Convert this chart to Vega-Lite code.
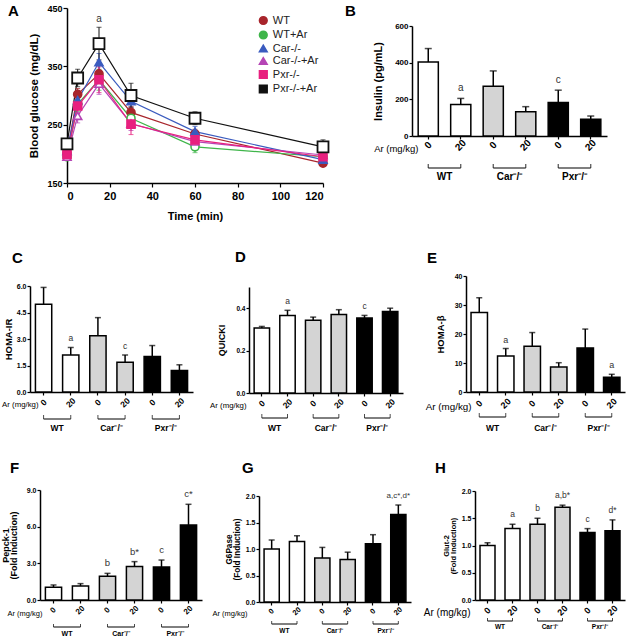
{
  "$schema": "https://vega.github.io/schema/vega-lite/v6.json",
  "padding": 0,
  "background": "white",
  "datasets": {
    "glucose": [
      {"g": "WT", "t": 0, "m": 201, "e": 6}, {"g": "WT", "t": 5, "m": 302, "e": 10}, {"g": "WT", "t": 15, "m": 337, "e": 15}, {"g": "WT", "t": 30, "m": 271, "e": 10}, {"g": "WT", "t": 60, "m": 234, "e": 8}, {"g": "WT", "t": 120, "m": 184, "e": 5},
      {"g": "WT+Ar", "t": 0, "m": 195, "e": 6}, {"g": "WT+Ar", "t": 5, "m": 285, "e": 12}, {"g": "WT+Ar", "t": 15, "m": 327, "e": 18}, {"g": "WT+Ar", "t": 30, "m": 261, "e": 12}, {"g": "WT+Ar", "t": 60, "m": 212, "e": 10}, {"g": "WT+Ar", "t": 120, "m": 195, "e": 6},
      {"g": "Car-/-", "t": 0, "m": 205, "e": 6}, {"g": "Car-/-", "t": 5, "m": 292, "e": 12}, {"g": "Car-/-", "t": 15, "m": 357, "e": 15}, {"g": "Car-/-", "t": 30, "m": 290, "e": 10}, {"g": "Car-/-", "t": 60, "m": 238, "e": 9}, {"g": "Car-/-", "t": 120, "m": 190, "e": 6},
      {"g": "Car-/-+Ar", "t": 0, "m": 195, "e": 6}, {"g": "Car-/-+Ar", "t": 5, "m": 265, "e": 12}, {"g": "Car-/-+Ar", "t": 15, "m": 320, "e": 18}, {"g": "Car-/-+Ar", "t": 30, "m": 252, "e": 12}, {"g": "Car-/-+Ar", "t": 60, "m": 221, "e": 9}, {"g": "Car-/-+Ar", "t": 120, "m": 198, "e": 6},
      {"g": "Pxr-/-", "t": 0, "m": 199, "e": 6}, {"g": "Pxr-/-", "t": 5, "m": 282, "e": 12}, {"g": "Pxr-/-", "t": 15, "m": 327, "e": 22}, {"g": "Pxr-/-", "t": 30, "m": 251, "e": 18}, {"g": "Pxr-/-", "t": 60, "m": 224, "e": 9}, {"g": "Pxr-/-", "t": 120, "m": 195, "e": 6},
      {"g": "Pxr-/-+Ar", "t": 0, "m": 217, "e": 8}, {"g": "Pxr-/-+Ar", "t": 5, "m": 330, "e": 15}, {"g": "Pxr-/-+Ar", "t": 15, "m": 389, "e": 28}, {"g": "Pxr-/-+Ar", "t": 30, "m": 300, "e": 21}, {"g": "Pxr-/-+Ar", "t": 60, "m": 261, "e": 11}, {"g": "Pxr-/-+Ar", "t": 120, "m": 212, "e": 12}
    ],
    "glucoseSig": [{"t": 15, "m": 417, "lab": "a"}],
    "brackets": [
      {"grp": "WT", "a": "WT 0", "b": "WT 20", "lab": "WT"},
      {"grp": "Car", "a": "Car 0", "b": "Car 20", "lab": "Car\u207b/\u207b"},
      {"grp": "Pxr", "a": "Pxr 0", "b": "Pxr 20", "lab": "Pxr\u207b/\u207b"}
    ],
    "insulin": [
      {"cat": "WT 0", "grp": "WT", "v": 404, "top": 477, "sig": ""}, {"cat": "WT 20", "grp": "WT", "v": 172, "top": 205, "sig": "a"},
      {"cat": "Car 0", "grp": "Car", "v": 272, "top": 355, "sig": ""}, {"cat": "Car 20", "grp": "Car", "v": 132, "top": 160, "sig": ""},
      {"cat": "Pxr 0", "grp": "Pxr", "v": 183, "top": 250, "sig": "c"}, {"cat": "Pxr 20", "grp": "Pxr", "v": 91, "top": 109, "sig": ""}
    ],
    "homair": [
      {"cat": "WT 0", "grp": "WT", "v": 4.97, "top": 5.92, "sig": ""}, {"cat": "WT 20", "grp": "WT", "v": 2.09, "top": 2.52, "sig": "a"},
      {"cat": "Car 0", "grp": "Car", "v": 3.18, "top": 4.21, "sig": ""}, {"cat": "Car 20", "grp": "Car", "v": 1.69, "top": 2.10, "sig": "c"},
      {"cat": "Pxr 0", "grp": "Pxr", "v": 2.01, "top": 2.63, "sig": ""}, {"cat": "Pxr 20", "grp": "Pxr", "v": 1.22, "top": 1.54, "sig": ""}
    ],
    "quicki": [
      {"cat": "WT 0", "grp": "WT", "v": 0.307, "top": 0.314, "sig": ""}, {"cat": "WT 20", "grp": "WT", "v": 0.365, "top": 0.390, "sig": "a"},
      {"cat": "Car 0", "grp": "Car", "v": 0.343, "top": 0.358, "sig": ""}, {"cat": "Car 20", "grp": "Car", "v": 0.370, "top": 0.393, "sig": ""},
      {"cat": "Pxr 0", "grp": "Pxr", "v": 0.354, "top": 0.366, "sig": "c"}, {"cat": "Pxr 20", "grp": "Pxr", "v": 0.384, "top": 0.400, "sig": ""}
    ],
    "homab": [
      {"cat": "WT 0", "grp": "WT", "v": 27.4, "top": 32.5, "sig": ""}, {"cat": "WT 20", "grp": "WT", "v": 12.4, "top": 15.0, "sig": "a"},
      {"cat": "Car 0", "grp": "Car", "v": 15.8, "top": 20.5, "sig": ""}, {"cat": "Car 20", "grp": "Car", "v": 8.6, "top": 10.1, "sig": ""},
      {"cat": "Pxr 0", "grp": "Pxr", "v": 15.2, "top": 21.7, "sig": ""}, {"cat": "Pxr 20", "grp": "Pxr", "v": 5.1, "top": 6.1, "sig": "a"}
    ],
    "pepck": [
      {"cat": "WT 0", "grp": "WT", "v": 1.04, "top": 1.23, "sig": ""}, {"cat": "WT 20", "grp": "WT", "v": 1.15, "top": 1.34, "sig": ""},
      {"cat": "Car 0", "grp": "Car", "v": 1.94, "top": 2.18, "sig": "b"}, {"cat": "Car 20", "grp": "Car", "v": 2.75, "top": 3.14, "sig": "b*"},
      {"cat": "Pxr 0", "grp": "Pxr", "v": 2.70, "top": 3.27, "sig": "c"}, {"cat": "Pxr 20", "grp": "Pxr", "v": 6.14, "top": 7.83, "sig": "c*"}
    ],
    "g6pase": [
      {"cat": "WT 0", "grp": "WT", "v": 1.00, "top": 1.17, "sig": ""}, {"cat": "WT 20", "grp": "WT", "v": 1.14, "top": 1.25, "sig": ""},
      {"cat": "Car 0", "grp": "Car", "v": 0.83, "top": 1.03, "sig": ""}, {"cat": "Car 20", "grp": "Car", "v": 0.80, "top": 0.94, "sig": ""},
      {"cat": "Pxr 0", "grp": "Pxr", "v": 1.10, "top": 1.27, "sig": ""}, {"cat": "Pxr 20", "grp": "Pxr", "v": 1.65, "top": 1.83, "sig": "a,c*,d*"}
    ],
    "glut2": [
      {"cat": "WT 0", "grp": "WT", "v": 1.00, "top": 1.05, "sig": ""}, {"cat": "WT 20", "grp": "WT", "v": 1.31, "top": 1.39, "sig": "a"},
      {"cat": "Car 0", "grp": "Car", "v": 1.39, "top": 1.50, "sig": "b"}, {"cat": "Car 20", "grp": "Car", "v": 1.70, "top": 1.74, "sig": "a,b*"},
      {"cat": "Pxr 0", "grp": "Pxr", "v": 1.24, "top": 1.31, "sig": "c"}, {"cat": "Pxr 20", "grp": "Pxr", "v": 1.27, "top": 1.47, "sig": "d*"}
    ]
  },
  "vconcat": [
    {
      "hconcat": [
        {
          "width": 335, "height": 240,
          "title": {"text": "A", "dx": 8, "offset": -19.1},
          "layer": [
            {
              "data": {"name": "glucose"},
              "mark": {"type": "line", "strokeWidth": 1.2},
              "encoding": {
                "x": {"field": "t", "type": "quantitative", "title": "Time (min)", "scale": {"domain": [0, 120], "range": [67, 323], "nice": false},
                      "axis": {"values": [0, 20, 40, 60, 80, 100, 120], "offset": -57, "labelFontSize": 11, "titleFontSize": 11, "titlePadding": 9, "tickSize": 4, "labelPadding": 3, "labelOverlap": false}},
                "y": {"field": "m", "type": "quantitative", "title": "Blood glucose (mg/dL)", "scale": {"domain": [150, 450], "range": [183, 8], "nice": false, "zero": false},
                      "axis": {"values": [150, 200, 250, 300, 350, 400, 450], "offset": -67, "labelFontSize": 9, "titleFontSize": 11.5, "titlePadding": 7, "tickSize": 4, "labelPadding": 1, "labelOverlap": false}},
                "color": {"field": "g", "type": "nominal",
                          "scale": {"domain": ["WT", "WT+Ar", "Car-/-", "Car-/-+Ar", "Pxr-/-", "Pxr-/-+Ar"], "range": ["#a8252c", "#3fb54a", "#3a5bbf", "#b545b5", "#e8207f", "#111111"]},
                          "legend": {"title": null, "orient": "none", "legendX": 257.8, "legendY": 15}}
              }
            },
            {
              "data": {"name": "glucose"},
              "mark": {"type": "errorbar", "ticks": {"size": 5}, "thickness": 1},
              "encoding": {
                "x": {"field": "t", "type": "quantitative", "title": "Time (min)"},
                "y": {"field": "m", "type": "quantitative", "title": "Blood glucose (mg/dL)"},
                "yError": {"field": "e"},
                "color": {"field": "g", "type": "nominal", "legend": {"title": null, "orient": "none", "legendX": 257.8, "legendY": 15}}
              }
            },
            {
              "data": {"name": "glucose"},
              "transform": [{"filter": "datum.g != 'Pxr-/-+Ar'"}],
              "mark": {"type": "point", "filled": false, "opacity": 1, "strokeWidth": 1.6, "size": 65},
              "encoding": {
                "x": {"field": "t", "type": "quantitative", "title": "Time (min)"},
                "y": {"field": "m", "type": "quantitative", "title": "Blood glucose (mg/dL)"},
                "color": {"field": "g", "type": "nominal", "legend": {"title": null, "orient": "none", "legendX": 257.8, "legendY": 15}},
                "shape": {"field": "g", "type": "nominal",
                          "scale": {"domain": ["WT", "WT+Ar", "Car-/-", "Car-/-+Ar", "Pxr-/-", "Pxr-/-+Ar"], "range": ["circle", "circle", "triangle-up", "triangle-up", "square", "square"]},
                          "legend": {"title": null, "orient": "none", "legendX": 257.8, "legendY": 15}},
                "fill": {"field": "g", "type": "nominal", "legend": null,
                         "scale": {"domain": ["WT", "WT+Ar", "Car-/-", "Car-/-+Ar", "Pxr-/-", "Pxr-/-+Ar"], "range": ["#a8252c", "#ffffff", "#3a5bbf", "#ffffff", "#e8207f", "#ffffff"]}}
              }
            },
            {
              "data": {"name": "glucose"},
              "transform": [{"filter": "datum.g == 'Pxr-/-+Ar'"}],
              "mark": {"type": "point", "filled": false, "opacity": 1, "strokeWidth": 1.8, "size": 120},
              "encoding": {
                "x": {"field": "t", "type": "quantitative", "title": "Time (min)"},
                "y": {"field": "m", "type": "quantitative", "title": "Blood glucose (mg/dL)"},
                "color": {"field": "g", "type": "nominal", "legend": {"title": null, "orient": "none", "legendX": 257.8, "legendY": 15}},
                "shape": {"field": "g", "type": "nominal", "legend": {"title": null, "orient": "none", "legendX": 257.8, "legendY": 15}},
                "fill": {"field": "g", "type": "nominal", "legend": null}
              }
            },
            {
              "data": {"name": "glucoseSig"},
              "mark": {"type": "text", "dy": -3, "baseline": "bottom", "fontSize": 10, "color": "#333"},
              "encoding": {
                "x": {"field": "t", "type": "quantitative", "title": "Time (min)"},
                "y": {"field": "m", "type": "quantitative", "title": "Blood glucose (mg/dL)"},
                "text": {"field": "lab"}
              }
            }
          ]
        },
        {
          "width": 296, "height": 240,
          "title": {"text": "B", "dx": 10, "offset": -19.1},
          "layer": [
            {"data": {"name": "insulin"}, "mark": {"type": "bar", "stroke": "#000", "strokeWidth": 1.5, "width": {"band": 0.62}},
             "encoding": {
               "x": {"field": "cat", "type": "nominal", "title": "Ar (mg/kg)", "scale": {"domain": ["WT 0", "WT 20", "Car 0", "Car 20", "Pxr 0", "Pxr 20"], "range": [77, 272], "paddingInner": 0, "paddingOuter": 0},
                     "axis": {"offset": -104, "titleFontSize": 9.5, "titleFontWeight": "normal", "titleX": 83, "titleY": 12, "titleAlign": "right", "titleBaseline": "middle", "titleAnchor": null, "labelExpr": "split(datum.label, ' ')[1]", "labelAngle": -45, "labelAlign": "center", "labelBaseline": "middle", "labelPadding": 6, "labelFontSize": 10, "labelOverlap": false, "tickSize": 3}},
               "y": {"field": "v", "type": "quantitative", "title": "Insulin (pg/mL)", "scale": {"domain": [0, 600], "range": [136, 26], "nice": false},
                     "axis": {"offset": -77, "values": [0, 200, 400, 600], "labelFontSize": 8, "titleFontSize": 11, "titlePadding": 11, "tickSize": 3, "labelPadding": 1, "labelOverlap": false}},
               "fill": {"field": "grp", "type": "nominal", "scale": {"domain": ["WT", "Car", "Pxr"], "range": ["#ffffff", "#d4d4d4", "#000000"]}, "legend": null}
             }},
            {"data": {"name": "insulin"}, "mark": {"type": "rule", "color": "#000", "strokeWidth": 1.5},
             "encoding": {"x": {"field": "cat", "type": "nominal"}, "y": {"field": "v", "type": "quantitative"}, "y2": {"field": "top"}}},
            {"data": {"name": "insulin"}, "mark": {"type": "tick", "color": "#000", "thickness": 1.5, "size": 7},
             "encoding": {"x": {"field": "cat", "type": "nominal"}, "y": {"field": "top", "type": "quantitative"}}},
            {"data": {"name": "insulin"}, "mark": {"type": "text", "dy": -5, "baseline": "bottom", "fontSize": 10, "color": "#333"},
             "encoding": {"x": {"field": "cat", "type": "nominal"}, "y": {"field": "top", "type": "quantitative"}, "text": {"field": "sig"}}},
            {"data": {"name": "brackets"}, "mark": {"type": "rule", "color": "#000", "strokeWidth": 1.2, "yOffset": 32},
             "encoding": {"x": {"field": "a", "type": "nominal"}, "x2": {"field": "b"}, "y": {"datum": 0}}},
            {"data": {"name": "brackets"}, "mark": {"type": "tick", "orient": "vertical", "color": "#000", "thickness": 1.2, "size": 4, "yOffset": 30},
             "encoding": {"x": {"field": "a", "type": "nominal"}, "y": {"datum": 0}}},
            {"data": {"name": "brackets"}, "mark": {"type": "tick", "orient": "vertical", "color": "#000", "thickness": 1.2, "size": 4, "yOffset": 30},
             "encoding": {"x": {"field": "b", "type": "nominal"}, "y": {"datum": 0}}},
            {"data": {"name": "brackets"}, "mark": {"type": "text", "dy": 41, "fontSize": 10, "fontWeight": "bold", "baseline": "middle", "color": "#000"},
             "encoding": {"x": {"field": "b", "type": "nominal", "bandPosition": 0}, "y": {"datum": 0}, "text": {"field": "lab"}}}
          ]
        }
      ],
      "spacing": 0,
      "resolve": {"scale": {"fill": "independent"}}
    },
    {
      "hconcat": [
        {
          "width": 205, "height": 200,
          "title": {"text": "C", "dx": 12, "offset": -26.1},
          "layer": [
            {"data": {"name": "homair"}, "mark": {"type": "bar", "stroke": "#000", "strokeWidth": 1.5, "width": {"band": 0.6}},
             "encoding": {
               "x": {"field": "cat", "type": "nominal", "title": "Ar (mg/kg)", "scale": {"domain": ["WT 0", "WT 20", "Car 0", "Car 20", "Pxr 0", "Pxr 20"], "range": [30, 193], "paddingInner": 0, "paddingOuter": 0},
                     "axis": {"offset": -48, "titleFontSize": 7.8, "titleFontWeight": "normal", "titleX": 38, "titleY": 12, "titleAlign": "right", "titleBaseline": "middle", "titleAnchor": null, "labelExpr": "split(datum.label, ' ')[1]", "labelAngle": -45, "labelAlign": "center", "labelBaseline": "middle", "labelPadding": 7, "labelFontSize": 8.5, "labelOverlap": false, "tickSize": 3}},
               "y": {"field": "v", "type": "quantitative", "title": "HOMA-IR", "scale": {"domain": [0, 6], "range": [152, 46], "nice": false},
                     "axis": {"offset": -30, "values": [0, 1.5, 3, 4.5, 6], "format": ".1f", "labelFontSize": 7, "titleFontSize": 9.5, "titlePadding": 3, "tickSize": 3, "labelPadding": 1, "labelOverlap": false}},
               "fill": {"field": "grp", "type": "nominal", "scale": {"domain": ["WT", "Car", "Pxr"], "range": ["#ffffff", "#d4d4d4", "#000000"]}, "legend": null}
             }},
            {"data": {"name": "homair"}, "mark": {"type": "rule", "color": "#000", "strokeWidth": 1.5},
             "encoding": {"x": {"field": "cat", "type": "nominal"}, "y": {"field": "v", "type": "quantitative"}, "y2": {"field": "top"}}},
            {"data": {"name": "homair"}, "mark": {"type": "tick", "color": "#000", "thickness": 1.5, "size": 6},
             "encoding": {"x": {"field": "cat", "type": "nominal"}, "y": {"field": "top", "type": "quantitative"}}},
            {"data": {"name": "homair"}, "mark": {"type": "text", "dy": -4, "baseline": "bottom", "fontSize": 8.5, "color": "#333"},
             "encoding": {"x": {"field": "cat", "type": "nominal"}, "y": {"field": "top", "type": "quantitative"}, "text": {"field": "sig"}}},
            {"data": {"name": "brackets"}, "mark": {"type": "rule", "color": "#000", "strokeWidth": 1, "yOffset": 27},
             "encoding": {"x": {"field": "a", "type": "nominal"}, "x2": {"field": "b"}, "y": {"datum": 0}}},
            {"data": {"name": "brackets"}, "mark": {"type": "tick", "orient": "vertical", "color": "#000", "thickness": 1, "size": 4, "yOffset": 25},
             "encoding": {"x": {"field": "a", "type": "nominal"}, "y": {"datum": 0}}},
            {"data": {"name": "brackets"}, "mark": {"type": "tick", "orient": "vertical", "color": "#000", "thickness": 1, "size": 4, "yOffset": 25},
             "encoding": {"x": {"field": "b", "type": "nominal"}, "y": {"datum": 0}}},
            {"data": {"name": "brackets"}, "mark": {"type": "text", "dy": 36, "fontSize": 8.5, "fontWeight": "bold", "baseline": "middle", "color": "#000"},
             "encoding": {"x": {"field": "b", "type": "nominal", "bandPosition": 0}, "y": {"datum": 0}, "text": {"field": "lab"}}}
          ]
        },
        {
          "width": 213, "height": 200,
          "title": {"text": "D", "dx": 30, "offset": -25.1},
          "layer": [
            {"data": {"name": "quicki"}, "mark": {"type": "bar", "stroke": "#000", "strokeWidth": 1.5, "width": {"band": 0.6}},
             "encoding": {
               "x": {"field": "cat", "type": "nominal", "title": "Ar (mg/kg)", "scale": {"domain": ["WT 0", "WT 20", "Car 0", "Car 20", "Pxr 0", "Pxr 20"], "range": [44, 198], "paddingInner": 0, "paddingOuter": 0},
                     "axis": {"offset": -47, "titleFontSize": 7.8, "titleFontWeight": "normal", "titleX": 41, "titleY": 12, "titleAlign": "right", "titleBaseline": "middle", "titleAnchor": null, "labelExpr": "split(datum.label, ' ')[1]", "labelAngle": -45, "labelAlign": "center", "labelBaseline": "middle", "labelPadding": 7, "labelFontSize": 8.5, "labelOverlap": false, "tickSize": 3}},
               "y": {"field": "v", "type": "quantitative", "title": "QUICKI", "scale": {"domain": [0, 0.5], "range": [153, 47], "nice": false},
                     "axis": {"offset": -44, "values": [0, 0.1, 0.2, 0.3, 0.4, 0.5], "format": ".1f", "labelFontSize": 6.5, "titleFontSize": 9, "titlePadding": 9, "tickSize": 3, "labelPadding": 1, "labelOverlap": false}},
               "fill": {"field": "grp", "type": "nominal", "scale": {"domain": ["WT", "Car", "Pxr"], "range": ["#ffffff", "#d4d4d4", "#000000"]}, "legend": null}
             }},
            {"data": {"name": "quicki"}, "mark": {"type": "rule", "color": "#000", "strokeWidth": 1.5},
             "encoding": {"x": {"field": "cat", "type": "nominal"}, "y": {"field": "v", "type": "quantitative"}, "y2": {"field": "top"}}},
            {"data": {"name": "quicki"}, "mark": {"type": "tick", "color": "#000", "thickness": 1.5, "size": 6},
             "encoding": {"x": {"field": "cat", "type": "nominal"}, "y": {"field": "top", "type": "quantitative"}}},
            {"data": {"name": "quicki"}, "mark": {"type": "text", "dy": -4, "baseline": "bottom", "fontSize": 8.5, "color": "#333"},
             "encoding": {"x": {"field": "cat", "type": "nominal"}, "y": {"field": "top", "type": "quantitative"}, "text": {"field": "sig"}}},
            {"data": {"name": "brackets"}, "mark": {"type": "rule", "color": "#000", "strokeWidth": 1, "yOffset": 25},
             "encoding": {"x": {"field": "a", "type": "nominal"}, "x2": {"field": "b"}, "y": {"datum": 0}}},
            {"data": {"name": "brackets"}, "mark": {"type": "tick", "orient": "vertical", "color": "#000", "thickness": 1, "size": 4, "yOffset": 23},
             "encoding": {"x": {"field": "a", "type": "nominal"}, "y": {"datum": 0}}},
            {"data": {"name": "brackets"}, "mark": {"type": "tick", "orient": "vertical", "color": "#000", "thickness": 1, "size": 4, "yOffset": 23},
             "encoding": {"x": {"field": "b", "type": "nominal"}, "y": {"datum": 0}}},
            {"data": {"name": "brackets"}, "mark": {"type": "text", "dy": 35, "fontSize": 8.5, "fontWeight": "bold", "baseline": "middle", "color": "#000"},
             "encoding": {"x": {"field": "b", "type": "nominal", "bandPosition": 0}, "y": {"datum": 0}, "text": {"field": "lab"}}}
          ]
        },
        {
          "width": 213, "height": 200,
          "title": {"text": "E", "dx": 9, "offset": -26.1},
          "layer": [
            {"data": {"name": "homab"}, "mark": {"type": "bar", "stroke": "#000", "strokeWidth": 1.5, "width": {"band": 0.62}},
             "encoding": {
               "x": {"field": "cat", "type": "nominal", "title": "Ar (mg/kg)", "scale": {"domain": ["WT 0", "WT 20", "Car 0", "Car 20", "Pxr 0", "Pxr 20"], "range": [48, 207], "paddingInner": 0, "paddingOuter": 0},
                     "axis": {"offset": -48, "titleFontSize": 9.8, "titleFontWeight": "normal", "titleX": 53, "titleY": 14, "titleAlign": "right", "titleBaseline": "middle", "titleAnchor": null, "labelExpr": "split(datum.label, ' ')[1]", "labelAngle": -45, "labelAlign": "center", "labelBaseline": "middle", "labelPadding": 8, "labelFontSize": 9, "labelOverlap": false, "tickSize": 3}},
               "y": {"field": "v", "type": "quantitative", "title": "HOMA-\u03b2", "scale": {"domain": [0, 40], "range": [152, 36], "nice": false},
                     "axis": {"offset": -48, "values": [0, 10, 20, 30, 40], "labelFontSize": 7, "titleFontSize": 9.5, "titlePadding": 9, "tickSize": 3, "labelPadding": 1, "labelOverlap": false}},
               "fill": {"field": "grp", "type": "nominal", "scale": {"domain": ["WT", "Car", "Pxr"], "range": ["#ffffff", "#d4d4d4", "#000000"]}, "legend": null}
             }},
            {"data": {"name": "homab"}, "mark": {"type": "rule", "color": "#000", "strokeWidth": 1.5},
             "encoding": {"x": {"field": "cat", "type": "nominal"}, "y": {"field": "v", "type": "quantitative"}, "y2": {"field": "top"}}},
            {"data": {"name": "homab"}, "mark": {"type": "tick", "color": "#000", "thickness": 1.5, "size": 6},
             "encoding": {"x": {"field": "cat", "type": "nominal"}, "y": {"field": "top", "type": "quantitative"}}},
            {"data": {"name": "homab"}, "mark": {"type": "text", "dy": -4, "baseline": "bottom", "fontSize": 9, "color": "#333"},
             "encoding": {"x": {"field": "cat", "type": "nominal"}, "y": {"field": "top", "type": "quantitative"}, "text": {"field": "sig"}}},
            {"data": {"name": "brackets"}, "mark": {"type": "rule", "color": "#000", "strokeWidth": 1, "yOffset": 25},
             "encoding": {"x": {"field": "a", "type": "nominal"}, "x2": {"field": "b"}, "y": {"datum": 0}}},
            {"data": {"name": "brackets"}, "mark": {"type": "tick", "orient": "vertical", "color": "#000", "thickness": 1, "size": 4, "yOffset": 23},
             "encoding": {"x": {"field": "a", "type": "nominal"}, "y": {"datum": 0}}},
            {"data": {"name": "brackets"}, "mark": {"type": "tick", "orient": "vertical", "color": "#000", "thickness": 1, "size": 4, "yOffset": 23},
             "encoding": {"x": {"field": "b", "type": "nominal"}, "y": {"datum": 0}}},
            {"data": {"name": "brackets"}, "mark": {"type": "text", "dy": 36, "fontSize": 8.5, "fontWeight": "bold", "baseline": "middle", "color": "#000"},
             "encoding": {"x": {"field": "b", "type": "nominal", "bandPosition": 0}, "y": {"datum": 0}, "text": {"field": "lab"}}}
          ]
        }
      ],
      "spacing": 0
    },
    {
      "hconcat": [
        {
          "width": 207, "height": 199,
          "title": {"text": "F", "dx": 10, "offset": -36.1},
          "layer": [
            {"data": {"name": "pepck"}, "mark": {"type": "bar", "stroke": "#000", "strokeWidth": 1.5, "width": {"band": 0.6}},
             "encoding": {
               "x": {"field": "cat", "type": "nominal", "title": "Ar (mg/kg)", "scale": {"domain": ["WT 0", "WT 20", "Car 0", "Car 20", "Pxr 0", "Pxr 20"], "range": [40, 202], "paddingInner": 0, "paddingOuter": 0},
                     "axis": {"offset": -39, "titleFontSize": 7.5, "titleFontWeight": "normal", "titleX": 42, "titleY": 13, "titleAlign": "right", "titleBaseline": "middle", "titleAnchor": null, "labelExpr": "split(datum.label, ' ')[1]", "labelAngle": -45, "labelAlign": "center", "labelBaseline": "middle", "labelPadding": 7, "labelFontSize": 8, "labelOverlap": false, "tickSize": 3}},
               "y": {"field": "v", "type": "quantitative", "title": ["Pepck-1", "(Fold Induction)"], "scale": {"domain": [0, 9], "range": [160, 50], "nice": false},
                     "axis": {"offset": -40, "values": [0, 1.5, 3, 4.5, 6, 7.5, 9], "format": ".1f", "labelFontSize": 7, "titleFontSize": 9, "titleLineHeight": 8, "titlePadding": 8, "tickSize": 3, "labelPadding": 1, "labelOverlap": false}},
               "fill": {"field": "grp", "type": "nominal", "scale": {"domain": ["WT", "Car", "Pxr"], "range": ["#ffffff", "#d4d4d4", "#000000"]}, "legend": null}
             }},
            {"data": {"name": "pepck"}, "mark": {"type": "rule", "color": "#000", "strokeWidth": 1.5},
             "encoding": {"x": {"field": "cat", "type": "nominal"}, "y": {"field": "v", "type": "quantitative"}, "y2": {"field": "top"}}},
            {"data": {"name": "pepck"}, "mark": {"type": "tick", "color": "#000", "thickness": 1.5, "size": 6},
             "encoding": {"x": {"field": "cat", "type": "nominal"}, "y": {"field": "top", "type": "quantitative"}}},
            {"data": {"name": "pepck"}, "mark": {"type": "text", "dy": -5, "baseline": "bottom", "fontSize": 9.5, "color": "#333"},
             "encoding": {"x": {"field": "cat", "type": "nominal"}, "y": {"field": "top", "type": "quantitative"}, "text": {"field": "sig"}}},
            {"data": {"name": "brackets"}, "mark": {"type": "rule", "color": "#000", "strokeWidth": 1, "yOffset": 27},
             "encoding": {"x": {"field": "a", "type": "nominal"}, "x2": {"field": "b"}, "y": {"datum": 0}}},
            {"data": {"name": "brackets"}, "mark": {"type": "tick", "orient": "vertical", "color": "#000", "thickness": 1, "size": 3, "yOffset": 25.5},
             "encoding": {"x": {"field": "a", "type": "nominal"}, "y": {"datum": 0}}},
            {"data": {"name": "brackets"}, "mark": {"type": "tick", "orient": "vertical", "color": "#000", "thickness": 1, "size": 3, "yOffset": 25.5},
             "encoding": {"x": {"field": "b", "type": "nominal"}, "y": {"datum": 0}}},
            {"data": {"name": "brackets"}, "mark": {"type": "text", "dy": 34, "fontSize": 7, "fontWeight": "bold", "baseline": "middle", "color": "#000"},
             "encoding": {"x": {"field": "b", "type": "nominal", "bandPosition": 0}, "y": {"datum": 0}, "text": {"field": "lab"}}}
          ]
        },
        {
          "width": 211, "height": 199,
          "title": {"text": "G", "dx": 35, "offset": -36.1},
          "layer": [
            {"data": {"name": "g6pase"}, "mark": {"type": "bar", "stroke": "#000", "strokeWidth": 1.5, "width": {"band": 0.6}},
             "encoding": {
               "x": {"field": "cat", "type": "nominal", "title": "Ar (mg/kg)", "scale": {"domain": ["WT 0", "WT 20", "Car 0", "Car 20", "Pxr 0", "Pxr 20"], "range": [52, 204], "paddingInner": 0, "paddingOuter": 0},
                     "axis": {"offset": -37, "titleFontSize": 7.5, "titleFontWeight": "normal", "titleX": 40, "titleY": 11, "titleAlign": "right", "titleBaseline": "middle", "titleAnchor": null, "labelExpr": "split(datum.label, ' ')[1]", "labelAngle": -45, "labelAlign": "center", "labelBaseline": "middle", "labelPadding": 6, "labelFontSize": 7.5, "labelOverlap": false, "tickSize": 3}},
               "y": {"field": "v", "type": "quantitative", "title": ["G6Pase", "(Fold Induction)"], "scale": {"domain": [0, 2], "range": [162, 56], "nice": false},
                     "axis": {"offset": -52, "values": [0, 0.5, 1, 1.5, 2], "format": ".1f", "labelFontSize": 7, "titleFontSize": 8.2, "titleLineHeight": 7.5, "titlePadding": 4, "tickSize": 3, "labelPadding": 1, "labelOverlap": false}},
               "fill": {"field": "grp", "type": "nominal", "scale": {"domain": ["WT", "Car", "Pxr"], "range": ["#ffffff", "#d4d4d4", "#000000"]}, "legend": null}
             }},
            {"data": {"name": "g6pase"}, "mark": {"type": "rule", "color": "#000", "strokeWidth": 1.5},
             "encoding": {"x": {"field": "cat", "type": "nominal"}, "y": {"field": "v", "type": "quantitative"}, "y2": {"field": "top"}}},
            {"data": {"name": "g6pase"}, "mark": {"type": "tick", "color": "#000", "thickness": 1.5, "size": 6},
             "encoding": {"x": {"field": "cat", "type": "nominal"}, "y": {"field": "top", "type": "quantitative"}}},
            {"data": {"name": "g6pase"}, "mark": {"type": "text", "dy": -5, "baseline": "bottom", "fontSize": 8, "color": "#333"},
             "encoding": {"x": {"field": "cat", "type": "nominal"}, "y": {"field": "top", "type": "quantitative"}, "text": {"field": "sig"}}},
            {"data": {"name": "brackets"}, "mark": {"type": "rule", "color": "#000", "strokeWidth": 1, "yOffset": 22},
             "encoding": {"x": {"field": "a", "type": "nominal"}, "x2": {"field": "b"}, "y": {"datum": 0}}},
            {"data": {"name": "brackets"}, "mark": {"type": "tick", "orient": "vertical", "color": "#000", "thickness": 1, "size": 3, "yOffset": 20.5},
             "encoding": {"x": {"field": "a", "type": "nominal"}, "y": {"datum": 0}}},
            {"data": {"name": "brackets"}, "mark": {"type": "tick", "orient": "vertical", "color": "#000", "thickness": 1, "size": 3, "yOffset": 20.5},
             "encoding": {"x": {"field": "b", "type": "nominal"}, "y": {"datum": 0}}},
            {"data": {"name": "brackets"}, "mark": {"type": "text", "dy": 29, "fontSize": 6.5, "fontWeight": "bold", "baseline": "middle", "color": "#000"},
             "encoding": {"x": {"field": "b", "type": "nominal", "bandPosition": 0}, "y": {"datum": 0}, "text": {"field": "lab"}}}
          ]
        },
        {
          "width": 213, "height": 199,
          "title": {"text": "H", "dx": 17, "offset": -36.1},
          "layer": [
            {"data": {"name": "glut2"}, "mark": {"type": "bar", "stroke": "#000", "strokeWidth": 1.5, "width": {"band": 0.6}},
             "encoding": {
               "x": {"field": "cat", "type": "nominal", "title": "Ar (mg/kg)", "scale": {"domain": ["WT 0", "WT 20", "Car 0", "Car 20", "Pxr 0", "Pxr 20"], "range": [57, 207], "paddingInner": 0, "paddingOuter": 0},
                     "axis": {"offset": -39, "titleFontSize": 10, "titleFontWeight": "normal", "titleX": 52, "titleY": 12, "titleAlign": "right", "titleBaseline": "middle", "titleAnchor": null, "labelExpr": "split(datum.label, ' ')[1]", "labelAngle": -45, "labelAlign": "center", "labelBaseline": "middle", "labelPadding": 7, "labelFontSize": 9, "labelOverlap": false, "tickSize": 3}},
               "y": {"field": "v", "type": "quantitative", "title": ["Glut-2", "(Fold Induction)"], "scale": {"domain": [0, 2], "range": [160, 51], "nice": false},
                     "axis": {"offset": -57, "values": [0, 0.5, 1, 1.5, 2], "format": ".1f", "labelFontSize": 7, "titleFontSize": 7.5, "titleLineHeight": 7, "titlePadding": 4, "tickSize": 3, "labelPadding": 1, "labelOverlap": false}},
               "fill": {"field": "grp", "type": "nominal", "scale": {"domain": ["WT", "Car", "Pxr"], "range": ["#ffffff", "#d4d4d4", "#000000"]}, "legend": null}
             }},
            {"data": {"name": "glut2"}, "mark": {"type": "rule", "color": "#000", "strokeWidth": 1.5},
             "encoding": {"x": {"field": "cat", "type": "nominal"}, "y": {"field": "v", "type": "quantitative"}, "y2": {"field": "top"}}},
            {"data": {"name": "glut2"}, "mark": {"type": "tick", "color": "#000", "thickness": 1.5, "size": 6},
             "encoding": {"x": {"field": "cat", "type": "nominal"}, "y": {"field": "top", "type": "quantitative"}}},
            {"data": {"name": "glut2"}, "mark": {"type": "text", "dy": -5, "baseline": "bottom", "fontSize": 8.5, "color": "#333"},
             "encoding": {"x": {"field": "cat", "type": "nominal"}, "y": {"field": "top", "type": "quantitative"}, "text": {"field": "sig"}}},
            {"data": {"name": "brackets"}, "mark": {"type": "rule", "color": "#000", "strokeWidth": 1, "yOffset": 21},
             "encoding": {"x": {"field": "a", "type": "nominal"}, "x2": {"field": "b"}, "y": {"datum": 0}}},
            {"data": {"name": "brackets"}, "mark": {"type": "tick", "orient": "vertical", "color": "#000", "thickness": 1, "size": 3, "yOffset": 19.5},
             "encoding": {"x": {"field": "a", "type": "nominal"}, "y": {"datum": 0}}},
            {"data": {"name": "brackets"}, "mark": {"type": "tick", "orient": "vertical", "color": "#000", "thickness": 1, "size": 3, "yOffset": 19.5},
             "encoding": {"x": {"field": "b", "type": "nominal"}, "y": {"datum": 0}}},
            {"data": {"name": "brackets"}, "mark": {"type": "text", "dy": 27, "fontSize": 6.5, "fontWeight": "bold", "baseline": "middle", "color": "#000"},
             "encoding": {"x": {"field": "b", "type": "nominal", "bandPosition": 0}, "y": {"datum": 0}, "text": {"field": "lab"}}}
          ]
        }
      ],
      "spacing": 0
    }
  ],
  "spacing": 0,
  "resolve": {"scale": {"fill": "independent"}},
  "config": {
    "view": {"stroke": null},
    "font": "Liberation Sans",
    "axis": {"grid": false, "domainColor": "#000", "tickColor": "#000", "labelColor": "#000", "titleColor": "#000", "labelFont": "Liberation Sans", "titleFont": "Liberation Sans", "labelFontWeight": "bold", "titleFontWeight": "bold", "domainWidth": 1.5, "tickWidth": 1.2, "labelOverlap": false},
    "axisY": {"labelOverlap": false},
    "title": {"font": "Liberation Sans", "fontSize": 15, "fontWeight": "bold", "anchor": "start", "frame": "group", "color": "#000"},
    "legend": {"labelFont": "Liberation Sans", "labelFontSize": 11, "labelColor": "#222", "symbolStrokeWidth": 1.5, "symbolSize": 60, "symbolOpacity": 1, "rowPadding": -0.5, "padding": 0, "labelOffset": 4},
    "text": {"font": "Liberation Sans"}
  }
}
